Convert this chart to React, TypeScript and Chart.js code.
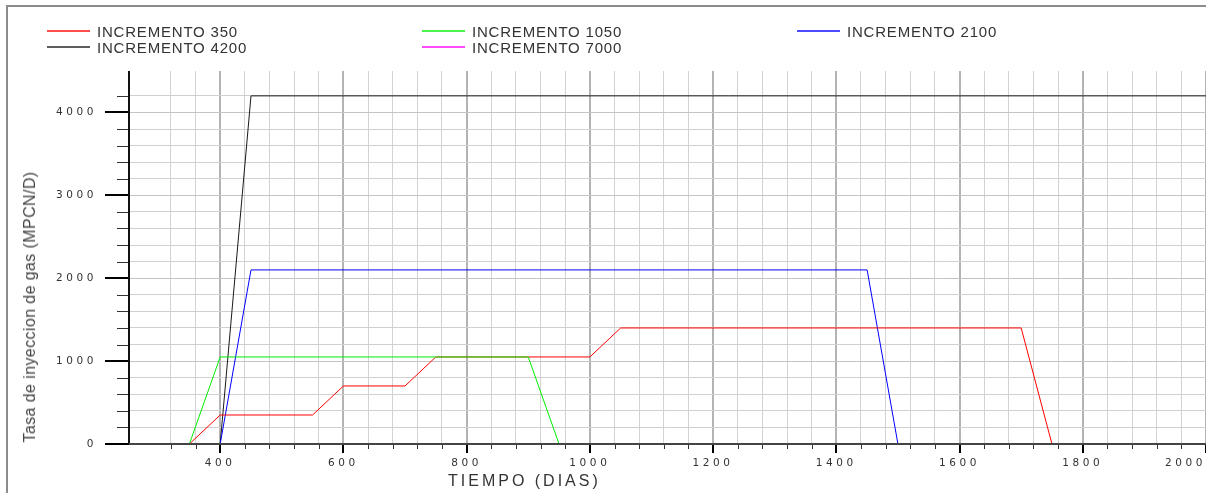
import React, { useEffect, useRef } from "react";
import { Chart, registerables } from "chart.js";

Chart.register(...registerables);

// ---- data ----
const days350 = [350, 400, 550, 600, 700, 750, 1000, 1050, 1700, 1750];
const rate350 = [0, 350, 350, 700, 700, 1050, 1050, 1400, 1400, 0];
const days1050 = [350, 400, 900, 950];
const rate1050 = [0, 1050, 1050, 0];
const days2100 = [400, 450, 1450, 1500];
const rate2100 = [0, 2100, 2100, 0];
const days4200 = [400, 450, 2000];
const rate4200 = [0, 4200, 4200];
const days7000: number[] = [];
const rate7000: number[] = [];

const seriesNames = [
  "INCREMENTO 350",
  "INCREMENTO 1050",
  "INCREMENTO 2100",
  "INCREMENTO 4200",
  "INCREMENTO 7000",
];
const seriesColors = ["#ff0000", "#00ee00", "#0000ff", "#1a1a1a", "#ff00ff"];
const seriesDays = [days350, days1050, days2100, days4200, days7000];
const seriesRates = [rate350, rate1050, rate2100, rate4200, rate7000];
const seriesOrder = [1, 0, 2, 3, 4];

const xMin = 252;
const xMax = 2000;
const xStep = 40;
const xLabelStep = 200;
const yMin = 0;
const yMax = 4500;
const yStep = 200;
const yLabelStep = 1000;

const xTitle = "TIEMPO (DIAS)";
const yTitle = "Tasa de inyeccion de gas (MPCN/D)";

const W = 1206;
const H = 493;

const cadAxes = {
  id: "cadAxes",
  beforeDraw(chart: any) {
    (chart.ctx as any).letterSpacing = "3.6px";
  },
  afterDraw(chart: any) {
    const ctx = chart.ctx;
    const a = chart.chartArea;
    const x = chart.scales.x;
    const y = chart.scales.y;
    ctx.save();
    (ctx as any).letterSpacing = "0px";
    for (const t of x.ticks) {
      if (t.value % xStep !== 0) continue;
      const px = Math.round(x.getPixelForValue(t.value));
      const major = t.value % xLabelStep === 0;
      ctx.strokeStyle = major ? "#000" : "#333";
      ctx.lineWidth = major ? 2 : 1;
      ctx.beginPath();
      ctx.moveTo(major ? px : px + 0.5, a.bottom);
      ctx.lineTo(major ? px : px + 0.5, a.bottom + (major ? 9 : 5));
      ctx.stroke();
    }
    for (const t of y.ticks) {
      if (t.value % yStep !== 0) continue;
      const py = Math.round(y.getPixelForValue(t.value));
      const major = t.value % yLabelStep === 0;
      ctx.strokeStyle = major ? "#000" : "#333";
      ctx.lineWidth = major ? 2 : 1;
      ctx.beginPath();
      ctx.moveTo(a.left, major ? py : py + 0.5);
      ctx.lineTo(a.left - (major ? 24 : 12), major ? py : py + 0.5);
      ctx.stroke();
    }
    ctx.lineWidth = 2;
    ctx.strokeStyle = "#111";
    ctx.beginPath();
    ctx.moveTo(Math.round(a.left), a.top);
    ctx.lineTo(Math.round(a.left), a.bottom);
    ctx.stroke();
    ctx.strokeStyle = "#444";
    ctx.beginPath();
    ctx.moveTo(a.left, Math.round(a.bottom));
    ctx.lineTo(a.right, Math.round(a.bottom));
    ctx.stroke();
    ctx.restore();
  },
};

export default function App() {
  const ref = useRef<HTMLCanvasElement>(null);

  useEffect(() => {
    if (!ref.current) return;
    const datasets = seriesNames.map((name, i) => ({
      label: name,
      data: seriesDays[i].map((d, k) => ({ x: d, y: seriesRates[i][k] })),
      borderColor: seriesColors[i],
      backgroundColor: seriesColors[i],
      borderWidth: 1,
      showLine: true,
      pointRadius: 0,
      fill: false,
      order: seriesOrder[i],
    }));
    const tickFont = { family: "'DejaVu Sans', 'Liberation Sans', sans-serif", size: 10.5 };
    const chart = new Chart(ref.current, {
      type: "scatter",
      data: { datasets },
      plugins: [cadAxes],
      options: {
        responsive: false,
        animation: false,
        devicePixelRatio: 1,
        layout: { padding: { top: 71, left: 0, right: 0, bottom: 0 } },
        plugins: {
          legend: { display: false },
          tooltip: { enabled: false },
        },
        scales: {
          x: {
            type: "linear",
            min: xMin,
            max: xMax,
            border: { display: false },
            afterFit: (s: any) => {
              s.height = H - 444;
            },
            grid: {
              color: (c: any) => {
                const v = c.tick?.value;
                if (v === undefined || v % xStep !== 0) return "rgba(0,0,0,0)";
                return v % xLabelStep === 0 ? "#b3b3b3" : "#d3d3d3";
              },
              lineWidth: (c: any) => {
                const v = c.tick?.value;
                return v !== undefined && v % xLabelStep === 0 ? 2 : 1;
              },
              tickLength: 13,
              tickColor: "rgba(0,0,0,0)",
            },
            ticks: {
              stepSize: xStep,
              autoSkip: false,
              maxRotation: 0,
              align: "inner",
              padding: 0,
              color: "#333",
              font: tickFont,
              callback: (v: any) => (Number(v) % xLabelStep === 0 ? String(v) : ""),
            },
          },
          y: {
            type: "linear",
            min: yMin,
            max: yMax,
            border: { display: false },
            afterFit: (s: any) => {
              s.width = 129;
            },
            grid: {
              color: (c: any) => {
                const v = c.tick?.value;
                if (v === undefined || v <= 0 || v % yStep !== 0) return "rgba(0,0,0,0)";
                return v % yLabelStep === 0 ? "#c4c4c4" : "#d0d0d0";
              },
              lineWidth: 1,
              tickLength: 32,
              tickColor: "rgba(0,0,0,0)",
            },
            ticks: {
              stepSize: yStep,
              autoSkip: false,
              padding: 0,
              color: "#333",
              font: tickFont,
              callback: (v: any) => (Number(v) % yLabelStep === 0 ? String(v) : ""),
            },
          },
        },
      } as any,
    });
    return () => chart.destroy();
  }, []);

  const textFont = "'Liberation Sans', Arial, sans-serif";

  return (
    <div style={{ position: "absolute", left: 0, top: 0, width: W, height: H, overflow: "hidden", background: "#fff" }}>
      <div
        style={{
          position: "absolute",
          left: 6,
          top: 5,
          width: W + 20,
          height: H + 20,
          borderLeft: "2px solid #8c8c8c",
          borderTop: "2px solid #8c8c8c",
        }}
      />
      <canvas ref={ref} width={W} height={H} style={{ position: "absolute", left: 0, top: 0, width: W, height: H }} />
      {seriesNames.map((n, i) => {
        const left = 47 + (i % 3) * 375;
        const cy = 31 + Math.floor(i / 3) * 16;
        return (
          <React.Fragment key={n}>
            <div
              style={{
                position: "absolute",
                left,
                top: cy - 1,
                width: 43,
                height: 2,
                background: seriesColors[i],
                opacity: 0.7,
              }}
            />
            <div
              style={{
                position: "absolute",
                left: left + 50,
                top: cy - 8,
                fontFamily: textFont,
                fontSize: 15,
                lineHeight: "17px",
                letterSpacing: "0.8px",
                color: "#333",
                whiteSpace: "nowrap",
              }}
            >
              {n}
            </div>
          </React.Fragment>
        );
      })}
      <div
        style={{
          position: "absolute",
          left: 448,
          top: 473,
          fontFamily: textFont,
          fontSize: 16,
          lineHeight: "16px",
          letterSpacing: "3px",
          color: "#333",
          whiteSpace: "nowrap",
        }}
      >
        {xTitle}
      </div>
      <div
        style={{
          position: "absolute",
          left: 30,
          top: 307,
          transform: "translate(-50%, -50%) rotate(-90deg)",
          fontFamily: textFont,
          fontSize: 16,
          lineHeight: "18px",
          letterSpacing: "0.4px",
          color: "#444",
          whiteSpace: "nowrap",
        }}
      >
        {yTitle}
      </div>
    </div>
  );
}
